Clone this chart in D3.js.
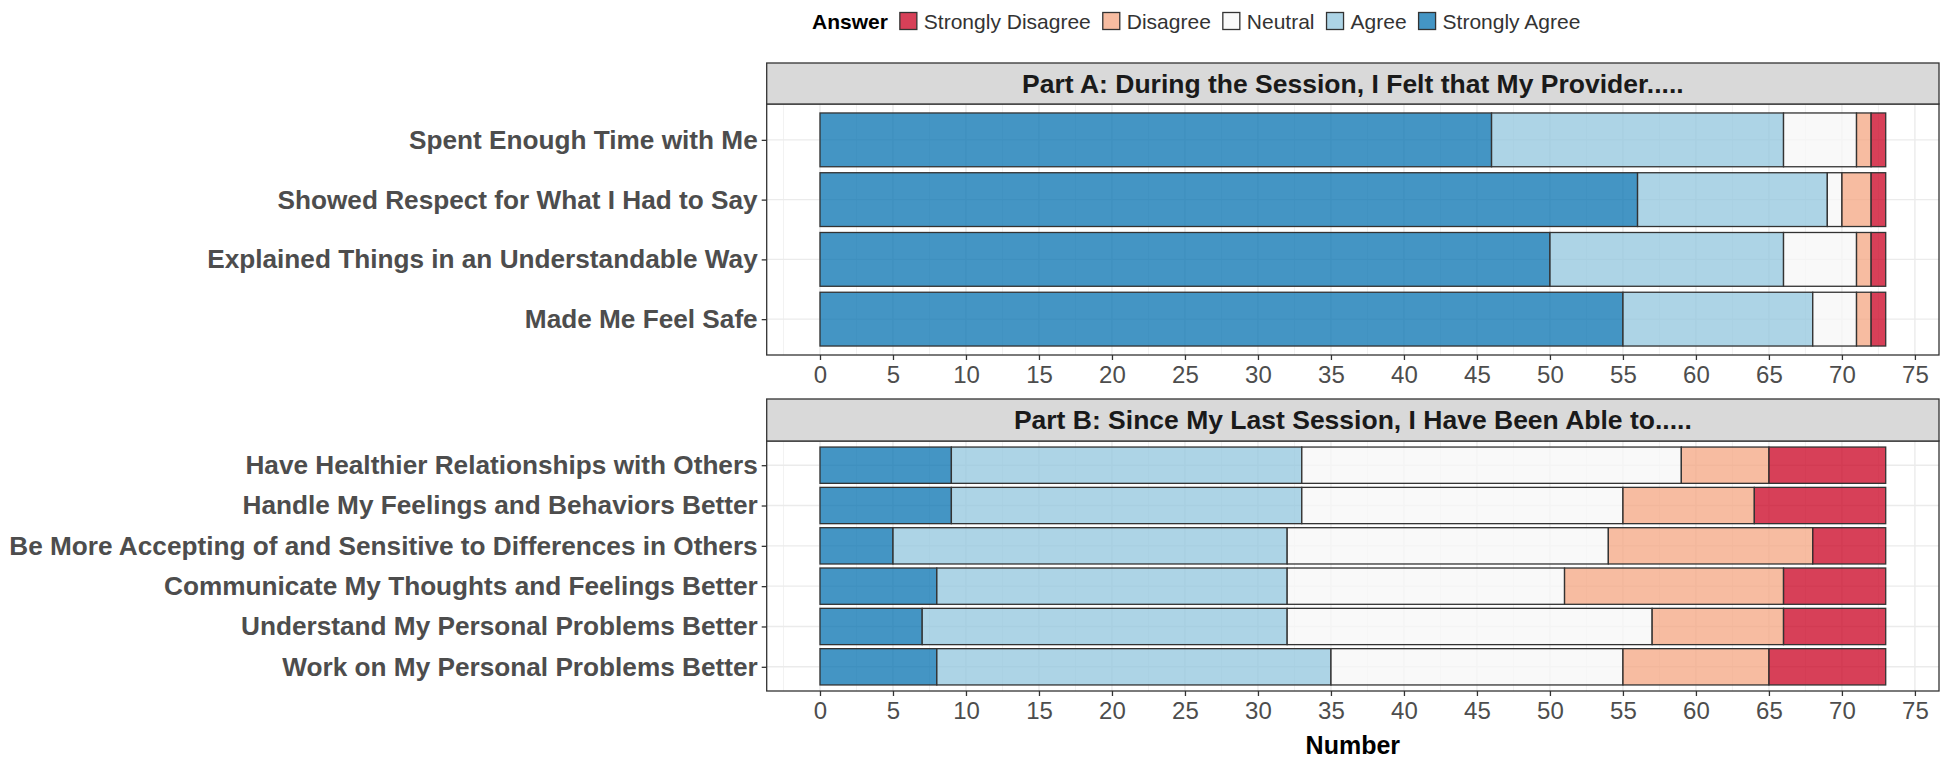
<!DOCTYPE html>
<html>
<head>
<meta charset="utf-8">
<script src="https://cdn.jsdelivr.net/npm/d3@7"></script>
<style>
  html, body { margin: 0; padding: 0; background: #fff; }
  text { font-family: "Liberation Sans", Arial, sans-serif; }
</style>
</head>
<body>
<svg id="chart" width="1944" height="759"></svg>
<script>
// ---------- data ----------
const answers = ["Strongly Disagree", "Disagree", "Neutral", "Agree", "Strongly Agree"];
const answerColors = ["#CA0020", "#F4A582", "#F7F7F7", "#92C5DE", "#0571B0"];
const stackOrder = ["Strongly Agree", "Agree", "Neutral", "Disagree", "Strongly Disagree"];

const partATitle = "Part A: During the Session, I Felt that My Provider.....";
const partBTitle = "Part B: Since My Last Session, I Have Been Able to.....";

const partACategories = [
  "Spent Enough Time with Me",
  "Showed Respect for What I Had to Say",
  "Explained Things in an Understandable Way",
  "Made Me Feel Safe"
];
const partAStronglyAgree    = [46, 56, 50, 55];
const partAAgree            = [20, 13, 16, 13];
const partANeutral          = [5, 1, 5, 3];
const partADisagree         = [1, 2, 1, 1];
const partAStronglyDisagree = [1, 1, 1, 1];

const partBCategories = [
  "Have Healthier Relationships with Others",
  "Handle My Feelings and Behaviors Better",
  "Be More Accepting of and Sensitive to Differences in Others",
  "Communicate My Thoughts and Feelings Better",
  "Understand My Personal Problems Better",
  "Work on My Personal Problems Better"
];
const partBStronglyAgree    = [9, 9, 5, 8, 7, 8];
const partBAgree            = [24, 24, 27, 24, 25, 27];
const partBNeutral          = [26, 22, 22, 19, 25, 20];
const partBDisagree         = [6, 9, 14, 15, 9, 10];
const partBStronglyDisagree = [8, 9, 5, 7, 7, 8];

const xTicks = [0, 5, 10, 15, 20, 25, 30, 35, 40, 45, 50, 55, 60, 65, 70, 75];
const xTitle = "Number";
const legendTitle = "Answer";

// ---------- build tables ----------
function buildRows(cats, sa, a, n, d, sd) {
  return cats.map((c, i) => ({
    category: c,
    "Strongly Agree": sa[i], "Agree": a[i], "Neutral": n[i],
    "Disagree": d[i], "Strongly Disagree": sd[i]
  }));
}
const rowsA = buildRows(partACategories, partAStronglyAgree, partAAgree, partANeutral, partADisagree, partAStronglyDisagree);
const rowsB = buildRows(partBCategories, partBStronglyAgree, partBAgree, partBNeutral, partBDisagree, partBStronglyDisagree);

const color = d3.scaleOrdinal().domain(answers).range(answerColors);

// ---------- layout ----------
const svg = d3.select("#chart");
const panelLeft = 766.7, panelRight = 1939;
const maxTotal = 73;
const expand = maxTotal * 0.05;
const x = d3.scaleLinear().domain([-expand, maxTotal + expand]).range([panelLeft, panelRight]);

const panels = [
  { title: partATitle, rows: rowsA, cats: partACategories, stripTop: 63, stripBottom: 104, plotBottom: 355 },
  { title: partBTitle, rows: rowsB, cats: partBCategories, stripTop: 399, stripBottom: 441, plotBottom: 691 }
];

const stack = d3.stack().keys(stackOrder);

panels.forEach(p => {
  const g = svg.append("g");
  const y = d3.scalePoint().domain(p.cats).range([p.stripBottom, p.plotBottom]).padding(0.6);
  const barH = y.step() * 0.9;

  g.append("rect").attr("x", panelLeft).attr("y", p.stripBottom)
    .attr("width", panelRight - panelLeft).attr("height", p.plotBottom - p.stripBottom)
    .attr("fill", "#fff");

  // minor grid
  const minor = d3.range(-2.5, maxTotal + expand, 5);
  g.selectAll(".minor").data(minor).enter().append("line")
    .attr("x1", d => x(d)).attr("x2", d => x(d))
    .attr("y1", p.stripBottom).attr("y2", p.plotBottom)
    .attr("stroke", "#F2F2F2").attr("stroke-width", 1);
  // major grid
  g.selectAll(".major").data(xTicks).enter().append("line")
    .attr("x1", d => x(d)).attr("x2", d => x(d))
    .attr("y1", p.stripBottom).attr("y2", p.plotBottom)
    .attr("stroke", "#EBEBEB").attr("stroke-width", 1.4);
  g.selectAll(".hmajor").data(p.cats).enter().append("line")
    .attr("x1", panelLeft).attr("x2", panelRight)
    .attr("y1", d => y(d)).attr("y2", d => y(d))
    .attr("stroke", "#EBEBEB").attr("stroke-width", 1.4);

  // bars
  const series = stack(p.rows);
  series.forEach(s => {
    g.selectAll(null).data(s).enter().append("rect")
      .attr("x", d => x(d[0]))
      .attr("width", d => Math.max(0, x(d[1]) - x(d[0])))
      .attr("y", d => y(d.data.category) - barH / 2)
      .attr("height", barH)
      .attr("fill", color(s.key))
      .attr("fill-opacity", 0.75)
      .attr("stroke", "#333")
      .attr("stroke-width", 1.3);
  });

  // panel border
  g.append("rect").attr("x", panelLeft).attr("y", p.stripBottom)
    .attr("width", panelRight - panelLeft).attr("height", p.plotBottom - p.stripBottom)
    .attr("fill", "none").attr("stroke", "#333").attr("stroke-width", 1.3);

  // strip
  g.append("rect").attr("x", panelLeft).attr("y", p.stripTop)
    .attr("width", panelRight - panelLeft).attr("height", p.stripBottom - p.stripTop)
    .attr("fill", "#D9D9D9").attr("stroke", "#333").attr("stroke-width", 1.3);
  g.append("text").attr("x", (panelLeft + panelRight) / 2).attr("y", (p.stripTop + p.stripBottom) / 2)
    .attr("text-anchor", "middle").attr("dominant-baseline", "central")
    .attr("font-size", 26.5).attr("font-weight", "bold").attr("fill", "#1A1A1A")
    .text(p.title);

  // y axis
  const yAxis = d3.axisLeft(y).tickSize(5).tickPadding(4);
  const ya = g.append("g").attr("transform", `translate(${panelLeft},0)`).call(yAxis);
  ya.select(".domain").remove();
  ya.selectAll(".tick line").attr("stroke", "#333").attr("stroke-width", 1.3);
  ya.selectAll(".tick text").attr("font-size", 26.2).attr("font-weight", "bold")
    .attr("fill", "#4D4D4D").attr("font-family", "'Liberation Sans', Arial, sans-serif");

  // x axis
  const xAxis = d3.axisBottom(x).tickValues(xTicks).tickSize(5).tickPadding(6);
  const xa = g.append("g").attr("transform", `translate(0,${p.plotBottom})`).call(xAxis);
  xa.select(".domain").remove();
  xa.selectAll(".tick line").attr("stroke", "#333").attr("stroke-width", 1.3);
  xa.selectAll(".tick text").attr("font-size", 24).attr("fill", "#4D4D4D")
    .attr("font-family", "'Liberation Sans', Arial, sans-serif");
});

// x title
svg.append("text").attr("x", (panelLeft + panelRight) / 2).attr("y", 745)
  .attr("text-anchor", "middle").attr("dominant-baseline", "central")
  .attr("font-size", 25).attr("font-weight", "bold").attr("fill", "#000")
  .text(xTitle);

// legend
const leg = svg.append("g");
const legY = 21;
let cx = 812;
const lt = leg.append("text").attr("x", cx).attr("y", legY).attr("dominant-baseline", "central")
  .attr("font-size", 21).attr("font-weight", "bold").attr("fill", "#000").text(legendTitle);
cx += lt.node().getComputedTextLength() + 12;
answers.forEach(a => {
  leg.append("rect").attr("x", cx).attr("y", legY - 8.5).attr("width", 17).attr("height", 17)
    .attr("fill", color(a)).attr("fill-opacity", 0.75).attr("stroke", "#333").attr("stroke-width", 1.3);
  cx += 17 + 7;
  const t = leg.append("text").attr("x", cx).attr("y", legY).attr("dominant-baseline", "central")
    .attr("font-size", 21).attr("fill", "#333").text(a);
  cx += t.node().getComputedTextLength() + 12;
});
</script>
</body>
</html>
